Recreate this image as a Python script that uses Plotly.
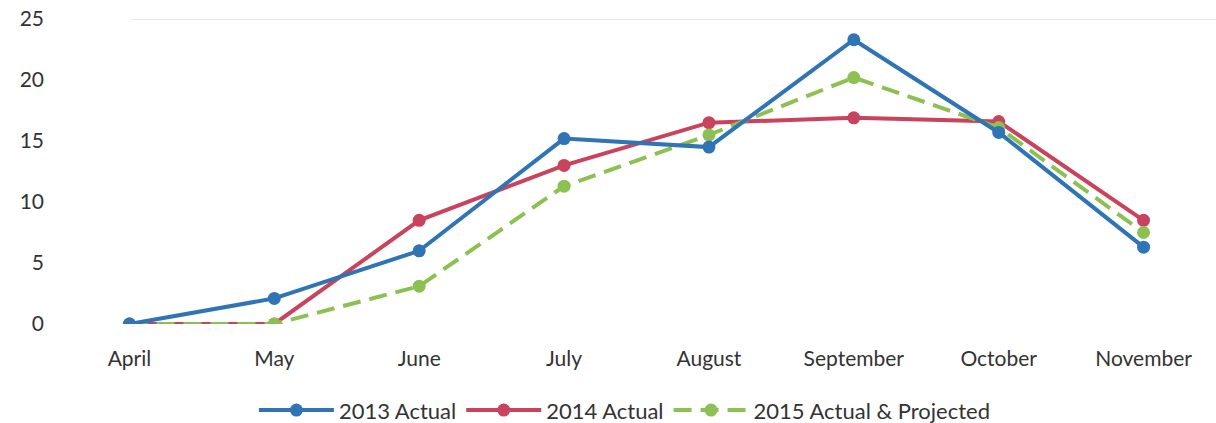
import plotly.graph_objects as go

months = ["April", "May", "June", "July", "August", "September", "October", "November"]
actual_2013 = [0, 2.1, 6.0, 15.2, 14.5, 23.3, 15.7, 6.3]
actual_2014 = [0, 0, 8.5, 13.0, 16.5, 16.9, 16.6, 8.5]
proj_2015 = [0, 0, 3.1, 11.3, 15.5, 20.2, 16.1, 7.5]
y_ticks = [0, 5, 10, 15, 20, 25]

blue = "#2F74B5"
red = "#C9435C"
green = "#8CC152"

fig = go.Figure()
fig.add_trace(go.Scatter(x=months, y=actual_2014, name="2014 Actual", mode="lines+markers",
                         line=dict(color=red, width=4), marker=dict(size=13, color=red),
                         legendrank=2))
fig.add_trace(go.Scatter(x=months, y=proj_2015, name="2015 Actual & Projected", mode="lines+markers",
                         line=dict(color=green, width=4, dash="18px,9px"), marker=dict(size=13, color=green),
                         legendrank=3))
fig.add_trace(go.Scatter(x=months, y=actual_2013, name="2013 Actual", mode="lines+markers",
                         line=dict(color=blue, width=4), marker=dict(size=13, color=blue),
                         legendrank=1))

fig.add_shape(type="line", xref="paper", yref="y", x0=0.065, x1=1, y0=25, y1=25,
              line=dict(color="#E6E6E6", width=2), layer="below")

fig.update_layout(
    width=1216, height=423,
    margin=dict(l=57, r=0, t=19, b=99, autoexpand=False),
    paper_bgcolor="white", plot_bgcolor="white",
    font=dict(family="Lato, 'Open Sans', sans-serif", size=21, color="#333333"),
    showlegend=True,
    legend=dict(orientation="h", x=0.49, xanchor="center", yref="container", y=0.03, yanchor="middle",
                font=dict(size=22, color="#333333"), traceorder="normal", itemwidth=75),
    xaxis=dict(showgrid=False, showline=False, zeroline=False, ticks="",
               ticklabelstandoff=20, range=[-0.5, 7.5]),
    yaxis=dict(range=[0, 25], tickvals=y_ticks, showgrid=False, showline=False,
               zeroline=False, ticks="", ticklabelstandoff=12),
)

fig.write_html("out.html")
